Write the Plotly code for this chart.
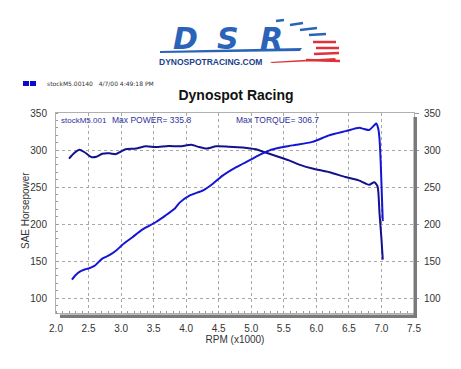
import plotly.graph_objects as go

# ---- data ----
torque_rpm = [2.20, 2.28, 2.36, 2.44, 2.54, 2.62, 2.71, 2.82, 2.92, 3.00, 3.07, 3.23, 3.38, 3.53,
              3.73, 3.90, 4.08, 4.20, 4.31, 4.46, 4.65, 4.87, 5.07, 5.22, 5.38, 5.58, 5.75, 5.94,
              6.20, 6.45, 6.65, 6.81, 6.89, 6.94, 6.97, 7.00, 7.02]
torque_val = [288.5, 296, 300.5, 297, 290.6, 291, 295, 295.5, 294.5, 298, 301, 302, 305, 304,
              305.5, 305, 307, 304, 302, 305, 304.5, 303.5, 301, 296.6, 292, 286, 280, 275,
              270, 263.5, 259, 253, 256.5, 251, 215, 180, 152]
power_rpm = [2.245, 2.30, 2.36, 2.45, 2.51, 2.59, 2.71, 2.82, 2.92, 3.02, 3.17, 3.33, 3.53, 3.68,
             3.83, 3.90, 4.05, 4.26, 4.41, 4.56, 4.77, 4.97, 5.12, 5.28, 5.43, 5.58, 5.69, 5.94,
             6.20, 6.45, 6.66, 6.73, 6.81, 6.89, 6.92, 6.95, 6.97, 6.99, 7.02]
power_val = [125, 131, 135.5, 139, 140.5, 143.5, 153.5, 158, 164, 172, 182, 193, 202.5, 211.5,
             221.5, 229, 238.5, 245.5, 254.5, 265.5, 277, 286, 293, 299.5, 303, 305.5, 307, 311,
             320, 325.5, 330, 328.5, 327, 333.5, 335.8, 329, 315, 280, 204]
x_ticks = [2.0, 2.5, 3.0, 3.5, 4.0, 4.5, 5.0, 5.5, 6.0, 6.5, 7.0, 7.5]
y_ticks = [100, 150, 200, 250, 300, 350]
max_power = 335.8
max_torque = 306.7

OFF = 8                      # page body margin
W, H = 461 - OFF, 369 - OFF
L, R, T, B = 56, 414, 113, 313   # plot area in reference (window) px


def px(x):
    return (x - L) / (R - L)


def py(y):
    return (B - y) / (B - T)


fig = go.Figure()
fig.add_trace(go.Scatter(x=torque_rpm, y=torque_val, mode="lines",
                         line=dict(color="#12128a", width=2, shape="spline", smoothing=0.6),
                         hoverinfo="skip", showlegend=False))
fig.add_trace(go.Scatter(x=power_rpm, y=power_val, mode="lines",
                         line=dict(color="#1515d6", width=2, shape="spline", smoothing=0.6),
                         hoverinfo="skip", showlegend=False))
# invisible trace to activate right axis
fig.add_trace(go.Scatter(x=[2.0], y=[80], yaxis="y2", mode="markers",
                         marker=dict(opacity=0), hoverinfo="skip", showlegend=False))

grid = dict(showgrid=True, gridcolor="#a8a8a8", griddash="3px,3px", gridwidth=1)
tickfont = dict(family="Liberation Sans, Arial", size=10, color="#333")

fig.update_layout(
    width=W, height=H,
    margin=dict(l=L - OFF, r=W - (R - OFF), t=T - OFF, b=H - (B - OFF), autoexpand=False),
    paper_bgcolor="white", plot_bgcolor="white",
    font=dict(family="Liberation Sans, Arial", color="#333"),
    title=dict(text="<b>Dynospot Racing</b>", x=(236 - OFF) / W, xanchor="center",
               y=1 - (95 - OFF) / H, yanchor="middle", automargin=False,
               font=dict(family="Liberation Sans, Arial", size=14, color="#111")),
    xaxis=dict(range=[2.0, 7.5], tickvals=x_ticks, ticktext=[f"{v:.1f}" for v in x_ticks],
               tickfont=tickfont, ticks="", ticklabelstandoff=6, automargin=False,
               showline=True, linecolor="#b0b0b0", mirror=True, zeroline=False,
               minor=dict(dtick=0.1, ticks="inside", ticklen=2, tickcolor="#999", showgrid=False),
               title=dict(text="RPM (x1000)", standoff=2,
                          font=dict(family="Liberation Sans, Arial", size=10, color="#333")),
               **grid),
    yaxis=dict(range=[80, 350], tickvals=y_ticks, tickfont=tickfont, ticks="",
               ticklabelstandoff=6, automargin=False,
               showline=True, linecolor="#b0b0b0", mirror=True, zeroline=False,
               minor=dict(dtick=10, ticks="inside", ticklen=2, tickcolor="#999", showgrid=False),
               **grid),
    yaxis2=dict(range=[80, 350], tickvals=y_ticks, tickfont=tickfont, overlaying="y",
                side="right", ticks="outside", ticklen=4, tickcolor="#999", automargin=False,
                ticklabelstandoff=3, showgrid=False, zeroline=False, showline=False),
)

shapes = []
# 3D shadow bars
shapes.append(dict(type="rect", xref="paper", yref="paper", x0=px(60), x1=px(417),
                   y0=py(314.5), y1=py(318), fillcolor="#7a7a7a", line=dict(width=0)))
shapes.append(dict(type="rect", xref="paper", yref="paper", x0=px(413.5), x1=px(417),
                   y0=py(117), y1=py(318), fillcolor="#7a7a7a", line=dict(width=0)))
# header squares
for x0 in (23, 30):
    shapes.append(dict(type="rect", xref="paper", yref="paper", x0=px(x0), x1=px(x0 + 6),
                       y0=py(86), y1=py(81), fillcolor="#0a0ad0", line=dict(width=0)))
# logo speed stripes (blue then red)
for (x0, y0, x1, y1) in [(276, 21, 284, 20), (290, 25, 303, 23), (300, 30, 317, 28), (309, 35, 326, 34)]:
    shapes.append(dict(type="line", xref="paper", yref="paper", x0=px(x0), y0=py(y0),
                       x1=px(x1), y1=py(y1), line=dict(color="#2a63b8", width=2.5)))
for (x0, y0, x1, y1) in [(313, 42, 336, 42), (316, 48, 339, 48), (314, 54, 339, 53), (306, 60, 340, 61)]:
    shapes.append(dict(type="line", xref="paper", yref="paper", x0=px(x0), y0=py(y0),
                       x1=px(x1), y1=py(y1), line=dict(color="#e0303a", width=2.5)))
shapes.append(dict(type="path", xref="paper", yref="paper",
                   path=f"M {px(270)} {py(62)} L {px(335)} {py(58)} L {px(336)} {py(60)} L {px(272)} {py(63)} Z",
                   fillcolor="#e0303a", line=dict(width=0)))
shapes.append(dict(type="path", xref="paper", yref="paper",
                   path=f"M {px(160)} {py(51)} L {px(302)} {py(48)} L {px(300)} {py(51)} L {px(160)} {py(53)} Z",
                   fillcolor="#2a63b8", line=dict(width=0)))
fig.update_layout(shapes=shapes)

ann = []
for letter, xc in (("D", 185), ("S", 228), ("R", 271)):
    ann.append(dict(text=f"<b><i>{letter}</i></b>", x=px(xc), y=py(38.5), xref="paper", yref="paper",
                    showarrow=False, xanchor="center", yanchor="middle", borderpad=0,
                    font=dict(family="DejaVu Sans", size=30, color="#2a63b8")))
ann.append(dict(text="<b>DYNOSPOTRACING.COM</b>", x=px(158), y=py(62), xref="paper", yref="paper",
                showarrow=False, xanchor="left", yanchor="middle", borderpad=0,
                font=dict(family="Liberation Sans, Arial", size=8.5, color="#1c3f8c")))
ann.append(dict(text="stockM5.00140   4/7/00 4:49:18 PM", x=px(45), y=py(83), xref="paper",
                yref="paper", showarrow=False, xanchor="left", yanchor="middle",
                font=dict(family="DejaVu Sans", size=6, color="#333")))
ann.append(dict(text="SAE Horsepower", x=px(25), y=py(210), xref="paper", yref="paper",
                showarrow=False, textangle=-90, xanchor="center", yanchor="middle",
                font=dict(family="Liberation Sans, Arial", size=10, color="#333")))
ann.append(dict(text="stockM5.001", x=px(59), y=py(120), xref="paper",
                yref="paper", showarrow=False, xanchor="left", yanchor="middle",
                font=dict(family="Liberation Sans, Arial", size=8, color="#3030a0")))
ann.append(dict(text=f"Max POWER= {max_power}", x=px(110), y=py(120), xref="paper",
                yref="paper", showarrow=False, xanchor="left", yanchor="middle",
                font=dict(family="Liberation Sans, Arial", size=8.5, color="#3030a0")))
ann.append(dict(text=f"Max TORQUE= {max_torque}", x=px(234), y=py(120), xref="paper",
                yref="paper", showarrow=False, xanchor="left", yanchor="middle",
                font=dict(family="Liberation Sans, Arial", size=8.5, color="#3030a0")))
fig.update_layout(annotations=ann)

fig.write_html("out.html")
